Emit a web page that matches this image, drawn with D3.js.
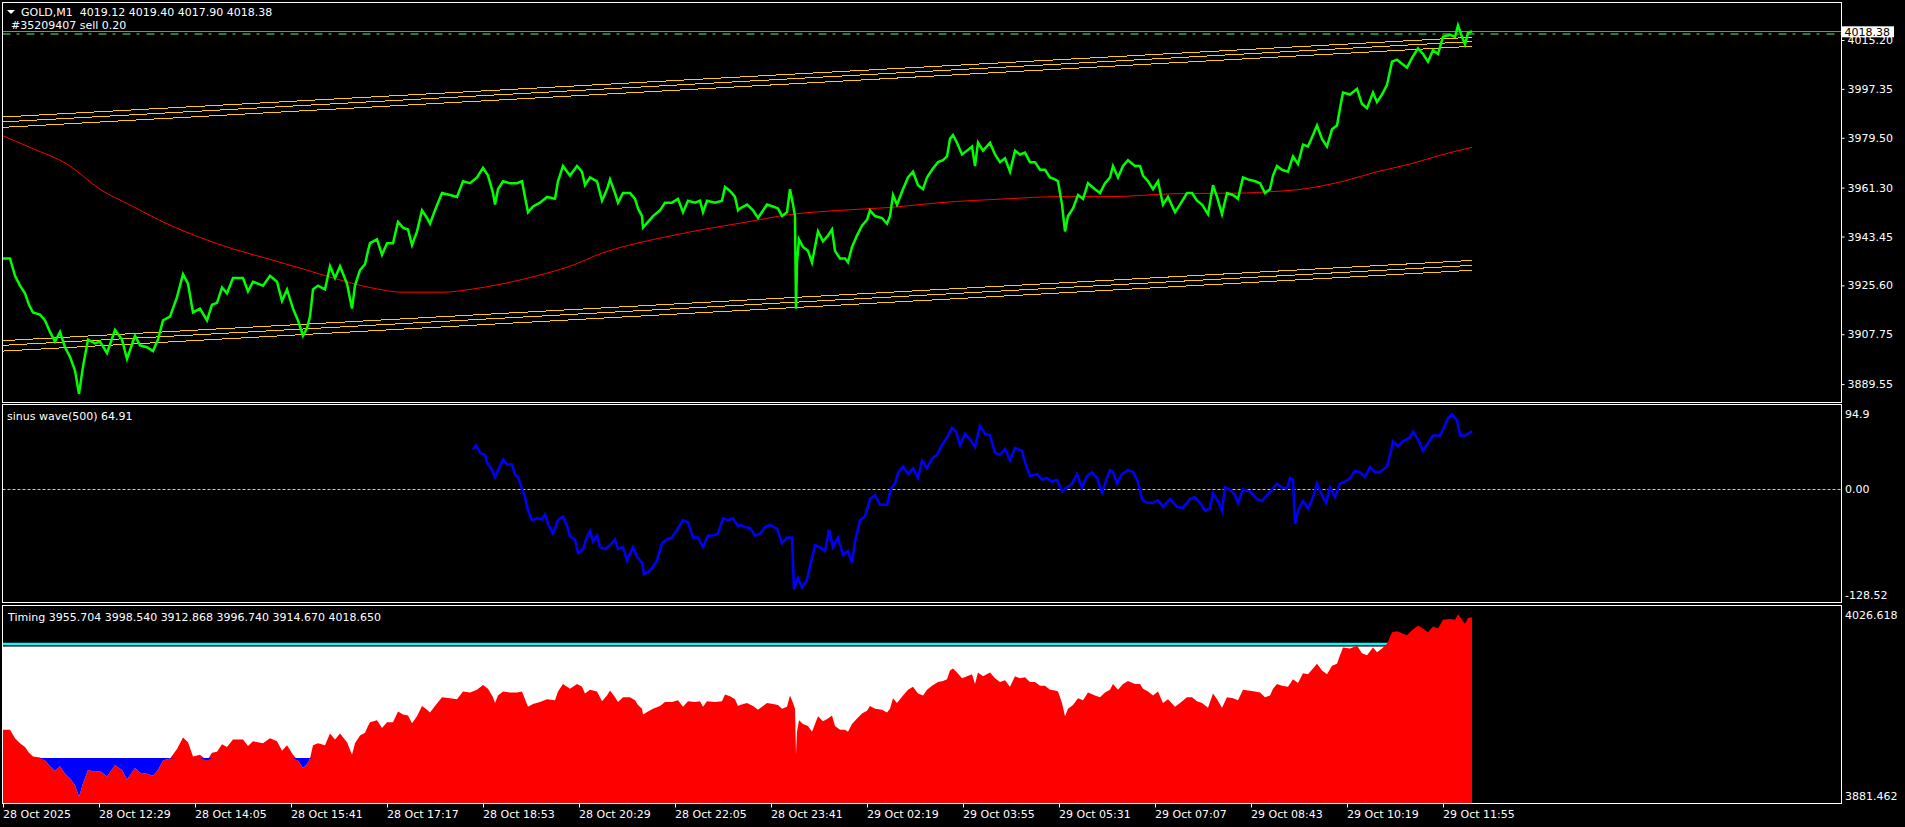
<!DOCTYPE html>
<html>
<head>
<meta charset="utf-8">
<script src="https://cdn.jsdelivr.net/npm/d3@7"></script>
<style>
body { margin: 0; background: #000; overflow: hidden; }
svg { display: block; }
text { font-family: "DejaVu Sans", sans-serif; font-size: 11px; fill: #fff; }
text.dark { fill: #000; }
</style>
</head>
<body>
<script>
// ---- data (bar index = minutes on the M1 time axis) ----
dateLabels = ["28 Oct 2025", "28 Oct 12:29", "28 Oct 14:05", "28 Oct 15:41", "28 Oct 17:17", "28 Oct 18:53",
    "28 Oct 20:29", "28 Oct 22:05", "28 Oct 23:41", "29 Oct 02:19", "29 Oct 03:55", "29 Oct 05:31",
    "29 Oct 07:07", "29 Oct 08:43", "29 Oct 10:19", "29 Oct 11:55"];
BARS_PER_LABEL = 96;

priceTicks = [4015.20, 3997.35, 3979.50, 3961.30, 3943.45, 3925.60, 3907.75, 3889.55];
priceRange = [3883.0, 4028.9];
bidPrice = 4018.38;
orderPrice = 4017.9;
lastQuote = [4019.12, 4019.40, 4017.90, 4018.38];

priceBars = [0,7,12,17,22,26,30,37,42,47,52,57,62,67,72,76,80,85,92,97,104,112,119,124,132,137,144,150,155,160,
    167,174,180,185,190,197,204,209,214,219,224,230,240,245,250,260,267,274,279,284,290,295,300,304,307,310,315,322,
    327,332,337,344,349,352,357,362,365,
    367,374,379,384,390,395,400,405,409,414,419,424,427,432,439,447,454,460,467,474,480,485,490,492,495,500,507,514,
    519,522,525,530,537,544,552,555,560,567,574,579,582,587,594,599,604,607,612,615,620,627,632,635,639,640,645,650,
    657,662,669,675,680,685,692,697,700,704,712,719,722,727,732,735,
    737,744,750,755,764,770,775,779,784,787,790,792,793,794,796,800,805,809,812,815,820,825,829,832,837,842,845,849,
    854,859,864,867,872,879,884,887,890,894,900,905,910,915,920,924,929,935,940,944,947,950,954,959,964,969,972,975,
    980,987,992,997,1002,1007,1012,1017,1022,1027,1032,1037,1042,1047,1052,1055,1059,1062,1065,1070,1075,1080,1085,
    1092,1097,1102,
    1107,1110,1115,1120,1125,1132,1137,1140,1145,1150,1155,1160,1165,1172,1177,1184,1189,1194,1199,1205,1210,1214,
    1219,1224,1230,1235,1240,1245,1252,1257,1262,1267,1270,1274,1279,1285,1290,1295,1300,1305,1310,1314,1319,1324,
    1329,1334,1337,1340,1347,1354,1359,1364,1370,1374,1379,1384,1389,1394,1399,1404,1409,1415,1420,1425,1430,1435,
    1440,1447,1452,1455,1459,1462,1465,1469];
priceValues = [3935.4,3935.4,3929.1,3925.5,3922.7,3918.5,3915.7,3914.9,3912.8,3908.6,3905.1,3908.6,3903.0,3899.5,
    3894.5,3886.0,3895.9,3905.8,3904.4,3905.1,3900.9,3909.3,3905.8,3898.7,3907.2,3903.7,3903.0,3901.6,3905.8,3912.8,
    3914.2,3921.3,3929.7,3926.2,3915.7,3917.1,3912.8,3918.5,3919.2,3924.8,3922.7,3928.3,3928.3,3923.4,3926.9,3925.5,
    3929.1,3926.9,3919.9,3924.1,3917.1,3912.8,3907.2,3910.0,3914.2,3924.1,3925.5,3924.1,3932.6,3928.3,3932.6,3926.2,
    3917.1,3925.5,3931.2,3933.3,3938.2,
    3941.0,3942.4,3936.8,3941.0,3941.0,3948.8,3946.7,3946.0,3940.3,3945.3,3953.0,3950.2,3948.1,3953.0,3959.3,3958.6,
    3957.9,3963.6,3962.9,3965.0,3968.5,3965.7,3959.3,3955.1,3960.7,3963.6,3962.9,3962.9,3963.6,3957.9,3952.3,3954.4,
    3955.8,3957.9,3957.2,3963.6,3969.2,3965.7,3969.2,3967.1,3962.2,3965.0,3963.6,3956.5,3960.7,3964.3,3959.3,3955.8,
    3959.3,3959.3,3957.2,3953.7,3950.9,3946.7,3948.8,3950.9,3953.0,3955.8,3955.8,3957.2,3952.3,3956.5,3955.8,3956.5,
    3952.3,3956.5,3955.8,3956.5,3961.5,3960.1,3957.9,3953.0,
    3953.7,3955.1,3953.0,3950.2,3955.1,3954.4,3953.7,3950.9,3952.3,3960.7,3955.1,3950.9,3917.1,3934.0,3942.4,3939.6,
    3938.2,3934.0,3939.6,3945.3,3941.7,3943.8,3946.0,3938.2,3935.4,3935.4,3934.0,3939.6,3943.8,3947.4,3949.5,3953.0,
    3950.9,3950.2,3948.1,3950.9,3958.6,3955.1,3960.7,3965.0,3967.1,3962.2,3960.7,3965.0,3967.8,3970.6,3971.3,3972.7,
    3979.1,3980.5,3977.7,3973.4,3974.8,3976.3,3969.2,3977.7,3974.8,3977.7,3973.4,3970.6,3972.0,3967.1,3974.8,3973.4,
    3974.1,3970.6,3970.6,3967.8,3967.8,3965.0,3964.3,3963.6,3955.1,3945.3,3950.9,3953.7,3958.6,3957.2,3962.9,3960.7,
    3959.3,3962.9,
    3965.0,3969.2,3965.0,3969.2,3971.3,3969.2,3969.2,3965.7,3963.6,3960.7,3963.6,3955.1,3957.9,3952.3,3955.1,3959.3,
    3959.3,3956.5,3955.1,3951.6,3962.2,3957.9,3951.6,3959.3,3958.6,3957.2,3965.0,3964.3,3963.6,3962.9,3959.3,3960.7,
    3965.7,3969.2,3967.8,3967.1,3972.7,3969.9,3977.0,3976.3,3980.5,3984.0,3979.1,3976.3,3982.6,3984.0,3990.3,3996.0,
    3995.3,3997.4,3991.8,3990.3,3996.0,3992.5,3995.3,3998.8,4007.3,4008.0,4006.5,4005.1,4008.7,4012.2,4010.1,4007.3,
    4011.5,4010.1,4016.4,4017.1,4016.4,4020.6,4016.4,4013.6,4017.8,4018.4];

// slow moving average (red)
maBars = [0,30,64,97,130,164,197,230,264,297,330,367,400,440,467,500,534,567,600,634,667,700,737,790,837,889,937,
    1004,1057,1107,1174,1240,1267,1294,1340,1374,1407,1440,1469];
maValues = [3980.2,3975.5,3969.9,3960.7,3954.4,3948.1,3943.1,3938.9,3935.4,3931.9,3928.3,3924.8,3923.1,3923.1,
    3924.1,3926.2,3929.1,3932.6,3937.5,3941.0,3943.6,3946.0,3948.3,3951.6,3953.0,3954.1,3955.8,3957.2,3958.0,3958.0,
    3959.1,3959.3,3959.8,3960.5,3963.6,3967.1,3969.9,3973.4,3976.0];

// channel trend lines, [start, end] price at channelBars
channelBars = [0, 1469];
upperChannel = [[3987.1, 4016.2], [3985.3, 4014.65], [3983.3, 4012.9]];
lowerChannel = [[3905.4, 3934.7], [3903.7, 3932.9], [3901.6, 3931.1]];

// sinus wave(500) sub window
sinusRange = [-128.52, 94.9];
sinusTickValues = [94.9, 0, -128.52];
sinusTickLabels = ["94.9", "0.00", "-128.52"];
sinusBars = [470,473,477,482,484,488,492,497,500,504,509,512,515,519,522,525,529,534,539,542,545,550,555,560,564,
    567,572,575,580,583,587,590,594,597,602,607,612,615,620,624,630,634,639,641,645,649,654,659,664,669,674,680,685,
    690,695,700,705,710,715,720,725,730,735,
    737,742,747,752,757,762,767,774,779,784,789,791,795,799,804,807,812,817,822,826,830,835,840,845,849,852,857,862,
    867,872,877,884,888,892,895,900,905,910,915,919,924,929,934,939,944,949,953,957,962,967,972,977,982,987,992,997,
    1002,1007,1012,1019,1022,1027,1034,1039,1044,1049,1054,1059,1064,1069,1074,1079,1084,1089,1094,1099,1104,
    1107,1110,1114,1119,1125,1130,1135,1139,1144,1150,1155,1160,1167,1174,1180,1187,1192,1197,1202,1207,1210,1215,
    1219,1222,1227,1232,1235,1240,1247,1254,1259,1264,1269,1274,1279,1284,1287,1290,1292,1295,1300,1305,1310,1314,
    1319,1323,1327,1332,1337,1342,1347,1352,1357,1362,1367,1372,1377,1384,1388,1390,1395,1400,1407,1410,1415,1420,
    1425,1430,1437,1440,1445,1449,1454,1457,1462,1469];
sinusValues = [45.0,49.3,40.6,38.4,29.7,23.2,13.1,25.3,33.2,27.5,27.5,15.7,13.1,0.0,-9.6,-24.9,-35.8,-33.6,-34.9,
    -29.2,-40.1,-51.0,-35.8,-31.4,-42.3,-54.1,-57.6,-72.9,-68.5,-57.6,-48.0,-59.8,-53.2,-66.3,-68.5,-64.1,-57.6,-68.5,
    -66.3,-81.6,-66.3,-77.2,-83.8,-96.9,-94.7,-90.3,-81.6,-62.0,-57.6,-55.4,-46.7,-35.8,-38.0,-55.4,-55.4,-66.3,-53.2,
    -53.2,-51.0,-33.6,-35.8,-33.6,-42.3,
    -41.0,-43.6,-44.5,-53.2,-51.0,-43.6,-41.0,-45.4,-62.0,-55.4,-55.4,-114.3,-101.2,-112.1,-103.4,-88.1,-64.1,-66.3,
    -70.7,-46.7,-66.3,-55.4,-75.0,-70.7,-83.8,-59.8,-35.8,-31.4,-11.8,-7.4,-18.3,-18.3,0.0,5.7,17.5,25.3,16.6,23.2,
    12.2,31.9,23.2,34.1,38.4,49.3,58.1,69.0,64.6,49.3,62.4,55.9,47.2,71.2,62.4,60.3,40.6,38.4,45.0,31.9,46.3,42.8,
    29.7,14.4,16.6,10.1,12.2,7.9,10.1,-3.0,1.3,5.7,16.6,1.3,14.4,18.8,12.2,-4.4,12.2,
    21.0,18.8,5.7,16.6,21.0,18.8,7.9,-11.8,-16.1,-16.1,-13.1,-20.5,-11.8,-20.5,-21.8,-11.8,-9.6,-16.1,-24.9,-22.7,
    -5.2,-14.0,-24.9,1.3,-0.9,-7.4,-16.1,-0.9,-3.0,-11.8,-14.0,-7.4,-0.9,5.7,1.3,0.0,12.2,10.1,-40.1,-24.9,-14.0,
    -22.7,-9.6,5.7,-7.4,-16.1,1.3,-9.6,5.7,7.9,12.2,20.1,18.8,13.1,24.5,18.8,18.8,25.3,42.8,53.7,48.0,53.7,58.1,64.6,
    55.9,42.8,51.5,60.3,60.3,66.8,79.9,84.3,77.7,60.3,60.3,64.91];

// Timing sub window
timingRange = [3881.462, 4026.618];
timingTickLabels = ["4026.618", "3881.462"];
timingLevels = [3955.704, 3998.540, 3912.868, 3996.740, 3914.670, 4018.650];
timingUpperLine = 3998.540;
timingWhiteTop = 3996.740;
timingLowLevel = 3914.670;

// ---- layout ----
var WIDTH = 1905, HEIGHT = 827;
var LEFT = 2.5, RIGHT = 1841.5;
var mainPane = {top: 2.5, bottom: 402.5};
var sinusPane = {top: 404.5, bottom: 602.5};
var timingPane = {top: 605.5, bottom: 803.5};

var svg = d3.select("body")
    .append("svg")
    .attr("width", WIDTH)
    .attr("height", HEIGHT)
    .style("background-color", "black");

var x = d3.scaleLinear().domain([0, 1838]).range([3, 1841]);
var yMain = d3.scaleLinear().domain(priceRange).range([402, 2.5]);
var ySinus = d3.scaleLinear().domain(sinusRange).range([602, 405]);
var yTiming = d3.scaleLinear().domain(timingRange).range([803, 606]);

var prices = priceBars.map((b, i) => ({bar: b, value: priceValues[i]}));
var ma = maBars.map((b, i) => ({bar: b, value: maValues[i]}));
var sinus = sinusBars.map((b, i) => ({bar: b, value: sinusValues[i]}));
var lastBar = priceBars[priceBars.length - 1];

// clip paths so each window keeps its own content
var defs = svg.append("defs");
[["clipMain", mainPane], ["clipSinus", sinusPane], ["clipTiming", timingPane]].forEach(function(c) {
    defs.append("clipPath").attr("id", c[0])
        .append("rect")
        .attr("x", LEFT + 0.5).attr("y", c[1].top + 0.5)
        .attr("width", RIGHT - LEFT - 1).attr("height", c[1].bottom - c[1].top - 1);
});

// ================= main window =================
var main = svg.append("g").attr("clip-path", "url(#clipMain)");

// bid line + sell order line
main.append("line")
    .attr("x1", LEFT).attr("x2", RIGHT)
    .attr("y1", Math.round(yMain(bidPrice)) + 0.5).attr("y2", Math.round(yMain(bidPrice)) + 0.5)
    .style("stroke", "#7a8a99").style("stroke-width", 1);
main.append("line")
    .attr("x1", LEFT).attr("x2", RIGHT)
    .attr("y1", Math.round(yMain(orderPrice)) + 1).attr("y2", Math.round(yMain(orderPrice)) + 1)
    .style("stroke", "#2fa83a").style("stroke-width", 1.5)
    .style("stroke-dasharray", "8,6,3,7");

// channel lines
var channelLine = d3.line().x(d => x(d[0])).y(d => yMain(d[1]));
upperChannel.concat(lowerChannel).forEach(function(c) {
    main.append("path")
        .attr("d", channelLine([[channelBars[0] - 3, c[0] - (c[1] - c[0]) * 3 / 1469], [channelBars[1], c[1]]]))
        .style("fill", "none")
        .style("stroke", "#ffcc00")
        .style("stroke-width", 1)
        .style("shape-rendering", "crispEdges");
});

// moving average
main.append("path")
    .attr("d", d3.line().x(d => x(d.bar)).y(d => yMain(d.value)).curve(d3.curveMonotoneX)(ma))
    .style("fill", "none")
    .style("stroke", "#ff0000")
    .style("stroke-width", 1);

// price
main.append("path")
    .attr("d", d3.line().x(d => x(d.bar)).y(d => yMain(d.value))(prices))
    .style("fill", "none")
    .style("stroke", "#00ff00")
    .style("stroke-width", 2.5)
    .style("stroke-linejoin", "miter");

// ================= sinus wave window =================
var sin = svg.append("g").attr("clip-path", "url(#clipSinus)");

sin.append("line")
    .attr("x1", LEFT).attr("x2", RIGHT)
    .attr("y1", Math.round(ySinus(0)) + 0.5).attr("y2", Math.round(ySinus(0)) + 0.5)
    .style("stroke", "#ffd21f").style("stroke-width", 1)
    .style("stroke-dasharray", "3,2");

sin.append("path")
    .attr("d", d3.line().x(d => x(d.bar)).y(d => ySinus(d.value))(sinus))
    .style("fill", "none")
    .style("stroke", "#0000ff")
    .style("stroke-width", 2.5);

// ================= Timing window =================
var tim = svg.append("g").attr("clip-path", "url(#clipTiming)");

tim.append("rect")
    .attr("x", x(0))
    .attr("y", yTiming(timingWhiteTop))
    .attr("width", x(lastBar) - x(0))
    .attr("height", yTiming(timingRange[0]) - yTiming(timingWhiteTop))
    .style("fill", "#ffffff");

tim.append("line")
    .attr("x1", x(0)).attr("x2", x(lastBar))
    .attr("y1", yTiming(timingUpperLine)).attr("y2", yTiming(timingUpperLine))
    .style("stroke", "#00ffff").style("stroke-width", 2.5);

tim.append("path")
    .attr("d", d3.area()
        .x(d => x(d.bar))
        .y0(yTiming(timingRange[0]) + 2)
        .y1(d => yTiming(d.value))(prices))
    .style("fill", "#ff0000");

tim.append("path")
    .attr("d", d3.area()
        .x(d => x(d.bar))
        .y0(yTiming(timingLowLevel))
        .y1(d => yTiming(Math.min(d.value, timingLowLevel)))(prices))
    .style("fill", "#0000ff");

// ================= frames =================
[mainPane, sinusPane, timingPane].forEach(function(p) {
    svg.append("rect")
        .attr("x", LEFT).attr("y", p.top)
        .attr("width", RIGHT - LEFT).attr("height", p.bottom - p.top)
        .style("fill", "none")
        .style("stroke", "#ffffff")
        .style("stroke-width", 1);
});

// ================= axes =================
function styleAxis(g) {
    g.select(".domain").remove();
    g.selectAll(".tick line").attr("stroke", "#ffffff");
}

svg.append("g")
    .attr("transform", "translate(" + RIGHT + ",0)")
    .call(d3.axisRight(yMain).tickValues(priceTicks).tickSize(3).tickFormat(d3.format(".2f")))
    .call(styleAxis);

svg.append("g")
    .attr("transform", "translate(" + (RIGHT + 0.5) + ",0)")
    .call(d3.axisRight(ySinus).tickValues(sinusTickValues).tickSize(0).tickPadding(3)
        .tickFormat((d, i) => sinusTickLabels[i]))
    .call(styleAxis)
    .selectAll("text")
    .attr("dy", (d, i) => i == 0 ? "1.1em" : (i == 2 ? "-0.35em" : "0.32em"));

svg.append("g")
    .attr("transform", "translate(" + (RIGHT + 0.5) + ",0)")
    .call(d3.axisRight(yTiming).tickValues(timingRange.slice().reverse()).tickSize(0).tickPadding(3)
        .tickFormat((d, i) => timingTickLabels[i]))
    .call(styleAxis)
    .selectAll("text")
    .attr("dy", (d, i) => i == 0 ? "1.1em" : "-0.35em");

svg.append("g")
    .attr("transform", "translate(0," + timingPane.bottom + ")")
    .call(d3.axisBottom(x)
        .tickValues(dateLabels.map((d, i) => i * BARS_PER_LABEL))
        .tickFormat((d, i) => dateLabels[i])
        .tickSize(4))
    .call(styleAxis)
    .selectAll("text")
    .attr("text-anchor", "start")
    .attr("x", -0.5);

// current bid box on the price scale (covers the top tick label, as in the terminal)
var bidY = yMain(bidPrice);
svg.append("rect")
    .attr("x", RIGHT + 0.5).attr("y", bidY - 5)
    .attr("width", 52).attr("height", 11)
    .style("fill", "#ffffff");
svg.append("text")
    .attr("class", "dark")
    .attr("x", RIGHT + 3).attr("y", bidY + 4.5)
    .text(bidPrice.toFixed(2));

// ================= window captions =================
svg.append("path")
    .attr("d", "M7,10 L15,10 L11,14 Z")
    .style("fill", "#ffffff");
svg.append("text").attr("x", 21).attr("y", 16)
    .text("GOLD,M1  " + lastQuote.map(d => d.toFixed(2)).join(" "))
    .style("white-space", "pre");
svg.append("text").attr("x", 11).attr("y", 29).text("#35209407 sell 0.20");
svg.append("text").attr("x", 7).attr("y", 420)
    .text("sinus wave(500) " + sinusValues[sinusValues.length - 1].toFixed(2));
svg.append("text").attr("x", 8).attr("y", 621)
    .text("Timing " + timingLevels.map(d => d.toFixed(3)).join(" "));
</script>
</body>
</html>
